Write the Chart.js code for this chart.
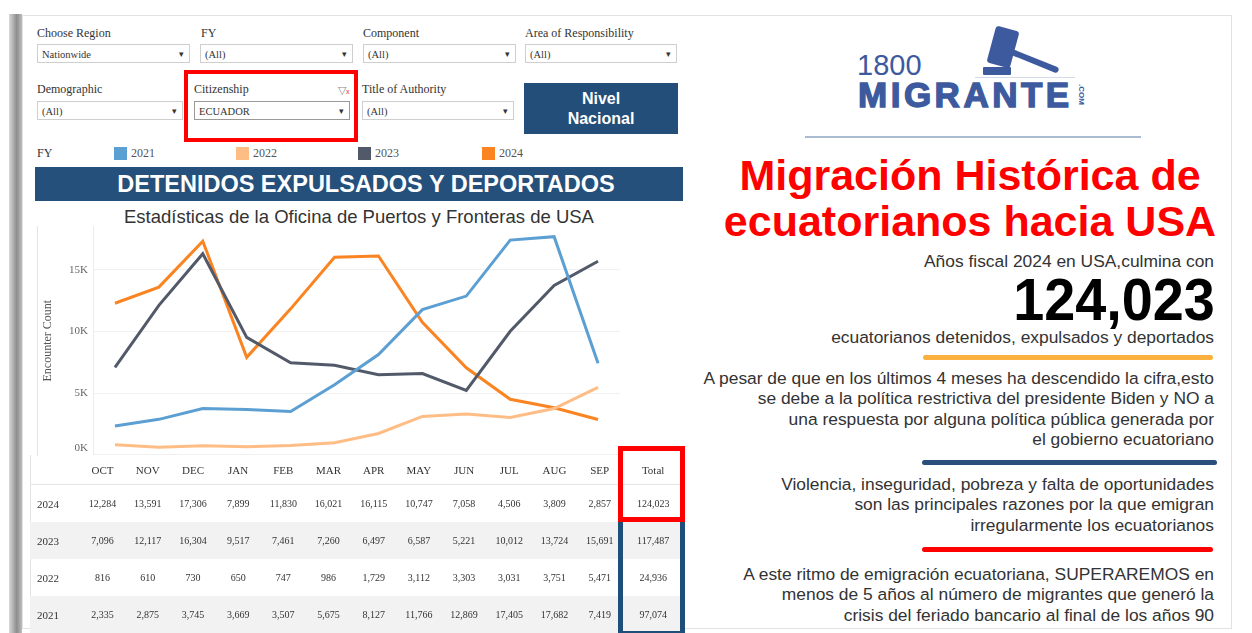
<!DOCTYPE html>
<html>
<head>
<meta charset="utf-8">
<script src="https://cdn.jsdelivr.net/npm/chart.js@4.4.1/dist/chart.umd.min.js"></script>
<style>
  html, body { margin: 0; padding: 0; background: #fff; }
  body { width: 1252px; height: 633px; position: relative; overflow: hidden; font-family: "Liberation Sans", Arial, sans-serif; }
  .abs { position: absolute; }
  .serif { font-family: "Liberation Serif", "Times New Roman", serif; }
  .lbl { font-size: 12px; color: #333; }
  .dd { position: absolute; height: 19px; border: 1px solid #cfcfcf; background: #fff; font-family: "Liberation Serif", serif; font-size: 10.5px; color: #333; line-height: 19px; padding-left: 4px; box-sizing: border-box; }
  .dd::after { content: "\25BE"; position: absolute; right: 5px; top: 0; font-size: 9px; color: #333; }
  .sq { position: absolute; width: 13px; height: 13px; }
  .leg { position: absolute; font-family: "Liberation Serif", serif; font-size: 12px; color: #555; }
  .para { position: absolute; right: 38px; text-align: right; font-size: 17.4px; line-height: 20.3px; color: #333; white-space: nowrap; }
  .rule { position: absolute; height: 5px; border-radius: 3px; }
  .logo { color: #3d5a9e; white-space: nowrap; }
  table { border-collapse: collapse; table-layout: fixed; font-family: "Liberation Serif", serif; color: #333; }
  td, th { padding: 0; text-align: center; font-weight: normal; }
  th { font-size: 11px; height: 29px; border-bottom: 1px solid #e6e6e6; }
  td { font-size: 10px; height: 37px; }
  td.yr { text-align: left; padding-left: 7px; font-size: 11px; }
  tr.shade td { background: #f2f2f2; }
</style>
</head>
<body>
<!-- card shadow and frame -->
<div class="abs" style="left:9px;top:14px;width:13px;height:619px;background:linear-gradient(to right,#d8d8d8,#8d8d8d 60%,#bdbdbd);"></div>
<div class="abs" style="left:22px;top:15px;width:1210px;height:614px;border:1px solid #e2e2e2;box-sizing:border-box;"></div>

<!-- filters -->
<div class="abs serif lbl" style="left:37px;top:26px;">Choose Region</div>
<div class="abs serif lbl" style="left:201px;top:26px;">FY</div>
<div class="abs serif lbl" style="left:363px;top:26px;">Component</div>
<div class="abs serif lbl" style="left:525px;top:26px;">Area of Responsibility</div>
<div class="dd" style="left:37px;top:44px;width:153px;">Nationwide</div>
<div class="dd" style="left:200px;top:44px;width:153px;">(All)</div>
<div class="dd" style="left:363px;top:44px;width:153px;">(All)</div>
<div class="dd" style="left:525px;top:44px;width:152px;">(All)</div>

<div class="abs serif lbl" style="left:37px;top:82px;">Demographic</div>
<div class="abs serif lbl" style="left:194px;top:82px;">Citizenship</div>
<div class="abs serif lbl" style="left:362px;top:82px;">Title of Authority</div>
<div class="abs" style="left:338px;top:84px;font-size:11px;color:#888;">&#9661;<span style="color:#e33;font-size:7px;">x</span></div>
<div class="dd" style="left:37px;top:101px;width:146px;">(All)</div>
<div class="dd" style="left:194px;top:101px;width:156px;border-color:#9a9a9a;">ECUADOR</div>
<div class="dd" style="left:362px;top:101px;width:152px;">(All)</div>
<div class="abs" style="left:184px;top:70px;width:174px;height:72px;border:4px solid #f00;box-sizing:border-box;"></div>

<div class="abs" style="left:524px;top:83px;width:154px;height:51px;background:#234e79;color:#fff;font-weight:bold;font-size:16px;line-height:20px;text-align:center;padding-top:6px;box-sizing:border-box;">Nivel<br>Nacional</div>

<!-- legend -->
<div class="leg" style="left:37px;top:146px;color:#333;">FY</div>
<div id="legend"></div>

<!-- banner -->
<div class="abs" style="left:35px;top:167px;width:648px;height:34px;background:#24507b;color:#fff;font-weight:bold;font-size:23.5px;line-height:34px;text-align:center;white-space:nowrap;padding-left:14px;box-sizing:border-box;">DETENIDOS EXPULSADOS Y DEPORTADOS</div>
<div class="abs" style="left:35px;top:206px;width:648px;text-align:center;font-size:18.5px;line-height:22px;color:#333;white-space:nowrap;">Estadísticas de la Oficina de Puertos y Fronteras de USA</div>

<!-- chart -->
<div class="abs" style="left:37px;top:226px;width:1px;height:230px;background:#e3e3e3;"></div>
<canvas id="encChart" class="abs" width="653" height="258" style="left:37px;top:215px;"></canvas>

<!-- table -->
<div class="abs" style="left:30px;top:455px;width:1px;height:178px;background:#e3e3e3;"></div>
<table id="tbl" class="abs" style="left:30px;top:455px;width:654px;"></table>
<div class="abs" style="left:618px;top:446px;width:67px;height:190px;border:5px solid #1f4e79;box-sizing:border-box;"></div>
<div class="abs" style="left:618px;top:446px;width:67px;height:76px;border:5px solid #f00;box-sizing:border-box;"></div>

<!-- right panel: logo -->
<div class="abs logo" style="left:857px;top:52px;font-size:29px;line-height:26px;">1800</div>
<div class="abs logo" style="left:858px;top:80px;font-size:35px;line-height:30px;font-weight:bold;-webkit-text-stroke:1.4px #3d5a9e;letter-spacing:3.5px;">MIGRANTE</div>
<div class="abs logo" style="left:1071px;top:90px;font-size:8px;line-height:9px;transform:rotate(90deg);font-weight:bold;">.COM</div>
<div class="abs" style="left:991px;top:28px;width:24px;height:38px;background:#3d5a9e;border-radius:3px;transform:rotate(15deg);"></div>
<div class="abs" style="left:1012px;top:49px;width:50px;height:6px;background:#3d5a9e;border-radius:3px;transform:rotate(22deg);transform-origin:left center;"></div>
<div class="abs" style="left:983px;top:67px;width:28px;height:8px;background:#3d5a9e;border-radius:1px;"></div>
<div class="abs" style="left:975px;top:77px;width:100px;height:1px;background:#d3dbe8;"></div>
<div class="abs" style="left:805px;top:136px;width:336px;height:2px;background:#a9bccf;"></div>

<!-- right panel: text -->
<div class="abs" style="left:700px;top:152px;width:540px;text-align:center;color:#f00;font-weight:bold;font-size:43px;line-height:46px;white-space:nowrap;">Migración Histórica de<br>ecuatorianos hacia USA</div>
<div class="para" style="top:251px;">Años fiscal 2024 en USA,culmina con</div>
<div class="abs" style="right:37px;top:276px;font-size:60px;font-weight:bold;color:#000;line-height:48px;transform:scaleX(0.93);transform-origin:right center;">124,023</div>
<div class="para" style="top:327px;">ecuatorianos detenidos, expulsados y deportados</div>
<div class="rule" style="left:923px;top:355px;width:290px;background:#fbb040;"></div>
<div class="para" style="top:368px;">A pesar de que en los últimos 4 meses ha descendido la cifra,esto<br>se debe a la política restrictiva del presidente Biden y NO a<br>una respuesta por alguna política pública generada por<br>el gobierno ecuatoriano</div>
<div class="rule" style="left:922px;top:460px;width:295px;background:#2a4f7a;"></div>
<div class="para" style="top:474px;">Violencia, inseguridad, pobreza y falta de oportunidades<br>son las principales razones por la que emigran<br>irregularmente los ecuatorianos</div>
<div class="rule" style="left:922px;top:547px;width:291px;background:#f00;"></div>
<div class="para" style="top:564px;">A este ritmo de emigración ecuatoriana, SUPERAREMOS en<br>menos de 5 años al número de migrantes que generó la<br>crisis del feriado bancario al final de los años 90</div>

<script>
const months = ['OCT', 'NOV', 'DEC', 'JAN', 'FEB', 'MAR', 'APR', 'MAY', 'JUN', 'JUL', 'AUG', 'SEP'];
const fy2024 = [12284, 13591, 17306, 7899, 11830, 16021, 16115, 10747, 7058, 4506, 3809, 2857];
const fy2023 = [7096, 12117, 16304, 9517, 7461, 7260, 6497, 6587, 5221, 10012, 13724, 15691];
const fy2022 = [816, 610, 730, 650, 747, 986, 1729, 3112, 3303, 3031, 3751, 5471];
const fy2021 = [2335, 2875, 3745, 3669, 3507, 5675, 8127, 11766, 12869, 17405, 17682, 7419];
const yTicks = [0, 5000, 10000, 15000];

const colors = { '2021': '#5c9fd3', '2022': '#ffbd86', '2023': '#525a6a', '2024': '#fb8422' };

// legend row
const legendX = { '2021': 114, '2022': 236, '2023': 358, '2024': 482 };
let legHtml = '';
Object.keys(legendX).forEach(y => {
    legHtml += '<div class="sq" style="left:' + legendX[y] + 'px;top:147px;background:' + colors[y] + ';"></div>';
    legHtml += '<div class="leg" style="left:' + (legendX[y] + 17) + 'px;top:146px;">' + y + '</div>';
});
document.getElementById('legend').innerHTML = legHtml;

// table
const rows = [['2024', fy2024], ['2023', fy2023], ['2022', fy2022], ['2021', fy2021]];
const fmt = v => v.toLocaleString('en-US');
let html = '<colgroup><col style="width:50px">';
months.forEach(() => { html += '<col style="width:45.2px">'; });
html += '<col style="width:61.6px"></colgroup>';
html += '<tr><th></th>' + months.map(m => '<th>' + m + '</th>').join('') + '<th>Total</th></tr>';
rows.forEach((r, i) => {
    const total = r[1].reduce((a, b) => a + b, 0);
    html += '<tr class="' + (i % 2 ? 'shade' : '') + '"><td class="yr">' + r[0] + '</td>' +
        r[1].map(v => '<td>' + fmt(v) + '</td>').join('') + '<td>' + fmt(total) + '</td></tr>';
});
document.getElementById('tbl').innerHTML = html;

// chart
const ctx = document.getElementById('encChart').getContext('2d');
const mkSet = (label, data) => ({
    label: label,
    data: data,
    borderColor: colors[label],
    backgroundColor: colors[label],
    borderWidth: 3,
    pointRadius: 0,
    tension: 0,
    fill: false
});
const encChart = new Chart(ctx, {
    type: 'line',
    data: {
        labels: months,
        datasets: [mkSet('2022', fy2022), mkSet('2021', fy2021), mkSet('2023', fy2023), mkSet('2024', fy2024)]
    },
    options: {
        responsive: false,
        animation: false,
        layout: { padding: { top: 0, bottom: 0, right: 70, left: 0 } },
        plugins: { legend: { display: false }, tooltip: { enabled: false } },
        scales: {
            x: { display: false, offset: true },
            y: {
                min: 0,
                max: 18500,
                afterBuildTicks: axis => { axis.ticks = yTicks.map(v => ({ value: v })); },
                afterFit: axis => { axis.width = 56; },
                ticks: {
                    padding: 5,
                    color: '#666',
                    font: { family: 'Liberation Serif', size: 11 },
                    // bottom label sits a little above the baseline, as in the original
                    callback: v => v === 0 ? ['0K', ''] : (v / 1000) + 'K'
                },
                grid: { color: '#f1f1f1', drawTicks: false },
                border: { display: true, color: '#ececec' },
                title: {
                    display: true,
                    text: 'Encounter Count',
                    color: '#555',
                    font: { family: 'Liberation Serif', size: 12 }
                }
            }
        }
    }
});
</script>
</body>
</html>
